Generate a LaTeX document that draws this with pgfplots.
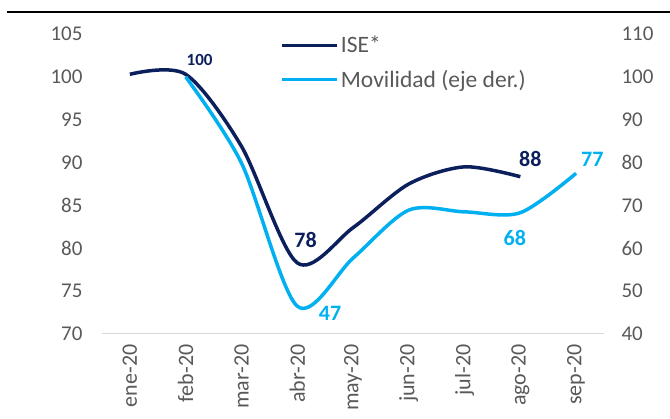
\documentclass[border=0pt]{standalone}
\usepackage{pgfplots}
\pgfplotsset{compat=1.18}
\usepackage{fontspec}
\setmainfont{Carlito}
\definecolor{ise}{HTML}{0B1F5C}
\definecolor{mov}{HTML}{00B0F0}
\definecolor{lbl}{HTML}{595959}
\definecolor{axl}{HTML}{D9D9D9}
\begin{document}
\begin{tikzpicture}
\path[use as bounding box] (-102pt,-85pt) rectangle (568pt,334pt);
\pgfplotsset{
  common/.style={
    at={(0,0)}, anchor=south west, scale only axis,
    width=502pt, height=300pt,
    xmin=-0.5, xmax=8.5,
    axis line style={draw=none},
    tick style={draw=none},
    /pgf/number format/assume math mode=true,
    ticklabel style={font=\fontsize{21}{21}\selectfont, text=lbl},
    clip=false,
  }
}
\begin{axis}[common,
  ymin=70, ymax=105, ytick={70,75,...,105},
  xtick={0,...,8},
  xticklabels={ene-20,feb-20,mar-20,abr-20,may-20,jun-20,jul-20,ago-20,sep-20},
  xticklabel style={rotate=90, anchor=east, font=\fontsize{22}{22}\selectfont},
  xtick pos=bottom,
  ytick pos=left,
  yticklabel style={anchor=east, xshift=-16pt},
  xticklabel shift=7pt,
  legend style={at={(0.355,1.0)}, anchor=north west, draw=none, fill=none,
    font=\fontsize{23.5}{23.5}\selectfont, text=lbl, row sep=12pt,
    inner sep=0pt},
  legend cell align=left,
  legend image code/.code={\draw[#1, line width=3.5pt] (0pt,0pt) -- (55pt,0pt);},
]
\draw[axl, line width=1pt] (rel axis cs:0,0) -- (rel axis cs:1,0);
\addplot[ise, line width=3.5pt, smooth, tension=0.5] coordinates {
  (0,100.3) (1,100.3) (2,91.9) (3,78.3) (4,82.4) (5,87.5) (6,89.5) (7,88.35)
};
\addlegendentry{ISE*}
\addlegendimage{mov}
\addlegendentry{Movilidad (eje der.)}
\node[text=ise, font=\bfseries\fontsize{17}{17}\selectfont] at (axis cs:1.25,102.0) {100};
\node[text=ise, font=\bfseries\fontsize{22}{22}\selectfont] at (axis cs:3.15,81.0) {78};
\node[text=mov, font=\bfseries\fontsize{22}{22}\selectfont] at (axis cs:3.59,72.45) {47};
\node[text=ise, font=\bfseries\fontsize{22}{22}\selectfont] at (axis cs:7.18,90.4) {88};
\node[text=mov, font=\bfseries\fontsize{22}{22}\selectfont] at (axis cs:8.29,90.4) {77};
\node[text=mov, font=\bfseries\fontsize{22}{22}\selectfont] at (axis cs:6.9,81.2) {68};
\end{axis}
\begin{axis}[common,
  ymin=40, ymax=110, ytick={40,50,...,110},
  xtick=\empty,
  ytick pos=right,
  yticklabel style={anchor=west, xshift=14pt},
]
\addplot[mov, line width=3.5pt, smooth, tension=0.5] coordinates {
  (1,100) (2,79.9) (3,46.5) (4,57.7) (5,68.9) (6,68.5) (7,68.3) (8,77.5)
};
\end{axis}
\draw[black, line width=2.5pt] (-95pt,322pt) -- (570pt,322pt);
\end{tikzpicture}
\end{document}
